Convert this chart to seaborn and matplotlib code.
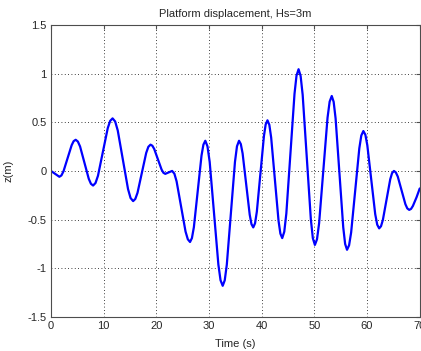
import pandas as pd
import seaborn as sns
import matplotlib.pyplot as plt

# values (time in s, displacement in m)
time_s = [0, 0.8, 1.6, 1.99, 2.38, 3.15, 3.93, 4.31, 4.7, 5.11, 5.53, 6.35, 7.18,
          7.59, 8.0, 8.46, 8.93, 9.85, 10.78, 11.24, 11.7, 12.19, 12.68, 13.65,
          14.63, 15.11, 15.6, 16.01, 16.43, 17.25, 18.08, 18.49, 18.9, 19.25,
          19.6, 20.3, 21.0, 21.35, 21.7, 22.35, 23.0, 23.43, 23.85, 24.7, 25.55,
          25.98, 26.4, 26.76, 27.13, 27.85, 28.58, 28.94, 29.3, 29.71, 30.13,
          30.95, 31.78, 32.19, 32.6, 32.99, 33.38, 34.15, 34.93, 35.31, 35.7,
          36.04, 36.38, 37.05, 37.73, 38.06, 38.4, 38.74, 39.08, 39.75, 40.43,
          40.76, 41.1, 41.45, 41.8, 42.5, 43.2, 43.55, 43.9, 44.29, 44.68, 45.45,
          46.23, 46.61, 47.0, 47.39, 47.78, 48.55, 49.33, 49.71, 50.1, 50.5,
          50.9, 51.7, 52.5, 52.9, 53.3, 53.66, 54.03, 54.75, 55.48, 55.84, 56.2,
          56.59, 56.98, 57.75, 58.53, 58.91, 59.3, 59.68, 60.05, 60.8, 61.55,
          61.93, 62.3, 62.65, 63.0, 63.7, 64.4, 64.75, 65.1, 65.46, 65.83, 66.55,
          67.28, 67.64, 68.0, 68.35, 68.7, 69.4, 70.0]
z_m = [0.0, -0.03, -0.06, -0.046, -0.004, 0.13, 0.264, 0.306, 0.32, 0.302, 0.251,
       0.085, -0.081, -0.132, -0.15, -0.124, -0.049, 0.195, 0.439, 0.514, 0.54,
       0.508, 0.416, 0.115, -0.186, -0.278, -0.31, -0.288, -0.225, -0.02, 0.185,
       0.248, 0.27, 0.259, 0.226, 0.12, 0.014, -0.019, -0.03, -0.015, 0.0,
       -0.028, -0.107, -0.365, -0.623, -0.702, -0.73, -0.69, -0.578, -0.21,
       0.158, 0.27, 0.31, 0.253, 0.093, -0.435, -0.962, -1.123, -1.18, -1.123,
       -0.963, -0.435, 0.093, 0.253, 0.31, 0.276, 0.18, -0.135, -0.45, -0.546,
       -0.58, -0.538, -0.419, -0.03, 0.359, 0.478, 0.52, 0.474, 0.343, -0.085,
       -0.513, -0.644, -0.69, -0.624, -0.437, 0.178, 0.792, 0.979, 1.045, 0.976,
       0.782, 0.143, -0.496, -0.691, -0.76, -0.702, -0.537, 0.005, 0.547, 0.712,
       0.77, 0.71, 0.539, -0.02, -0.579, -0.75, -0.81, -0.764, -0.632, -0.2,
       0.232, 0.364, 0.41, 0.372, 0.264, -0.09, -0.444, -0.552, -0.59, -0.568,
       -0.504, -0.295, -0.086, -0.022, 0.0, -0.015, -0.058, -0.2, -0.342,
       -0.385, -0.4, -0.39, -0.36, -0.27, -0.18]

x_ticks = [0, 10, 20, 30, 40, 50, 60, 70]
y_ticks = [-1.5, -1, -0.5, 0, 0.5, 1, 1.5]
y_labels = ['-1.5', '-1', '-0.5', '0', '0.5', '1', '1.5']

df = pd.DataFrame({'t': time_s, 'z': z_m})

sns.set_style("white")
plt.rcParams['font.family'] = ['Liberation Sans', 'DejaVu Sans']
plt.rcParams['axes.unicode_minus'] = False

fig = plt.figure(figsize=(4.21, 3.51), dpi=100)
ax = fig.add_axes([0.121, 0.097, 0.876, 0.832])

sns.lineplot(data=df, x='t', y='z', sort=False, color=(0, 0, 1), linewidth=1.6, ax=ax)

ax.set_xlim(0, 70)
ax.set_ylim(-1.5, 1.5)
ax.set_xticks(x_ticks)
ax.set_yticks(y_ticks)
ax.set_yticklabels(y_labels)
ax.grid(True, linestyle=(0, (1, 3)), color='black', linewidth=0.6)
ax.tick_params(direction='in', top=True, right=True, length=3, labelsize=8,
               color='0.3', pad=3)
for s in ax.spines.values():
    s.set_color('0.3')
    s.set_linewidth(0.8)

ax.set_xlabel('Time (s)', fontsize=8, labelpad=6)
ax.set_ylabel('z(m)', fontsize=8, labelpad=10)
ax.set_title('Platform displacement, Hs=3m', fontsize=8, pad=6)

fig.savefig('out.png', dpi=100)
